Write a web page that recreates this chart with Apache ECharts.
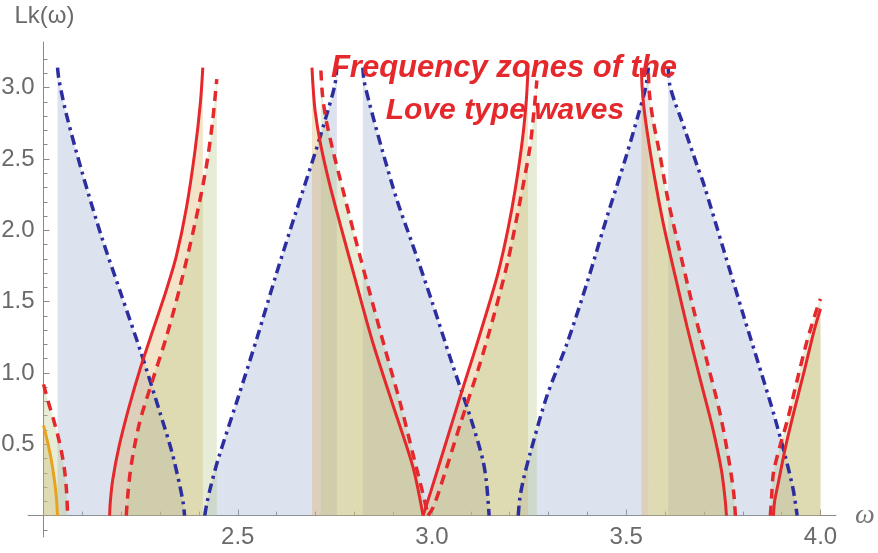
<!DOCTYPE html>
<html>
<head>
<meta charset="utf-8">
<script src="https://cdn.jsdelivr.net/npm/echarts@6/dist/echarts.min.js"></script>
<style>
    html, body {margin: 0; padding: 0; background: #fff;}
    #chart {width: 878px; height: 553px;}
</style>
</head>
<body>
<div id="chart"></div>
<script>
// tick positions
let xMajor = [2.5, 3.0, 3.5, 4.0];
let xMinor = [2.1, 2.2, 2.3, 2.4, 2.6, 2.7, 2.8, 2.9, 3.1, 3.2, 3.3, 3.4, 3.6, 3.7, 3.8, 3.9];
let yMajor = [0.5, 1.0, 1.5, 2.0, 2.5, 3.0];
let yMinor = [-0.1, 0.1, 0.2, 0.3, 0.4, 0.6, 0.7, 0.8, 0.9, 1.1, 1.2, 1.3, 1.4, 1.6, 1.7, 1.8, 1.9,
    2.1, 2.2, 2.3, 2.4, 2.6, 2.7, 2.8, 2.9, 3.1, 3.2];

// blue dot-dashed branches
let blue1 = [[2.036, 3.14], [2.040, 3.05], [2.06, 2.80], [2.10, 2.40], [2.15, 1.95], [2.20, 1.55], [2.25, 1.15],
    [2.30, 0.72], [2.33, 0.45], [2.35, 0.22], [2.36, 0.08], [2.363, 0]];
let blue2 = [[2.415, 0], [2.42, 0.08], [2.43, 0.20], [2.45, 0.40], [2.50, 0.82], [2.55, 1.25], [2.60, 1.70],
    [2.65, 2.13], [2.70, 2.55], [2.73, 2.82], [2.75, 3.02], [2.755, 3.14]];
let blue3 = [[2.822, 3.14], [2.825, 3.05], [2.84, 2.88], [2.87, 2.58], [2.91, 2.21], [2.95, 1.90], [3.00, 1.50],
    [3.05, 1.08], [3.10, 0.68], [3.13, 0.40], [3.14, 0.24], [3.147, 0]];
let blue4 = [[3.222, 0], [3.226, 0.12], [3.235, 0.25], [3.253, 0.44], [3.296, 0.84], [3.348, 1.21], [3.40, 1.64],
    [3.45, 2.09], [3.50, 2.52], [3.531, 2.81], [3.55, 3.0], [3.557, 3.14]];
let blue5 = [[3.608, 3.14], [3.612, 3.02], [3.625, 2.90], [3.64, 2.79], [3.683, 2.45], [3.70, 2.32], [3.75, 1.87],
    [3.80, 1.42], [3.85, 0.98], [3.88, 0.71], [3.91, 0.41], [3.93, 0.18], [3.94, 0]];

// orange solid branch
let orange1 = [[2.0, 0.63], [2.01, 0.52], [2.02, 0.39], [2.028, 0.25], [2.033, 0.13], [2.036, 0]];

// red solid branches
let solid1 = [[2.170, 0], [2.172, 0.10], [2.178, 0.25], [2.194, 0.48], [2.220, 0.76], [2.250, 1.04], [2.284, 1.32],
    [2.316, 1.58], [2.342, 1.82], [2.368, 2.16], [2.390, 2.56], [2.404, 2.90], [2.410, 3.14]];
let solid2a = [[2.691, 3.14], [2.694, 3.0], [2.699, 2.84], [2.712, 2.62], [2.735, 2.34], [2.765, 2.03], [2.80, 1.68],
    [2.848, 1.21], [2.90, 0.77], [2.951, 0.34], [2.977, 0]];
let solid2b = [[2.977, 0], [2.997, 0.17], [3.038, 0.53], [3.072, 0.83], [3.106, 1.12], [3.140, 1.42], [3.170, 1.70],
    [3.195, 2.00], [3.215, 2.30], [3.233, 2.64], [3.243, 2.92], [3.247, 3.12]];
let solid3 = [[3.539, 3.14], [3.541, 3.0], [3.546, 2.85], [3.555, 2.67], [3.571, 2.40], [3.596, 2.04], [3.626, 1.68],
    [3.657, 1.32], [3.69, 0.96], [3.722, 0.62], [3.745, 0.32], [3.754, 0.13], [3.758, 0]];
let solid4 = [[3.879, 0], [3.882, 0.10], [3.893, 0.25], [3.91, 0.48], [3.931, 0.72], [3.957, 1.00], [3.982, 1.28],
    [4.0, 1.45]];

// red dashed branches
let dashed0 = [[2.0, 0.92], [2.012, 0.80], [2.025, 0.68], [2.036, 0.57], [2.046, 0.45], [2.054, 0.32],
    [2.059, 0.18], [2.062, 0]];
let dashed1 = [[2.213, 0], [2.216, 0.12], [2.226, 0.36], [2.248, 0.66], [2.282, 0.96], [2.316, 1.25],
    [2.350, 1.59], [2.390, 2.05], [2.418, 2.43], [2.435, 2.76], [2.446, 3.06]];
let dashed2a = [[2.714, 3.12], [2.718, 2.95], [2.727, 2.78], [2.745, 2.56], [2.77, 2.29], [2.80, 1.97], [2.84, 1.56],
    [2.88, 1.16], [2.92, 0.77], [2.951, 0.43], [2.977, 0.15], [2.99, 0]];
let dashed2b = [[2.99, 0], [3.005, 0.07], [3.038, 0.34], [3.075, 0.66], [3.124, 1.07], [3.160, 1.41], [3.195, 1.78],
    [3.227, 2.21], [3.252, 2.58], [3.263, 2.85], [3.27, 3.05]];
let dashed3 = [[3.557, 3.10], [3.56, 2.95], [3.568, 2.79], [3.588, 2.51], [3.607, 2.22], [3.639, 1.84], [3.672, 1.46],
    [3.709, 1.07], [3.742, 0.71], [3.766, 0.36], [3.777, 0.15], [3.781, 0]];
let dashed4 = [[3.871, 0], [3.874, 0.12], [3.879, 0.30], [3.895, 0.48], [3.915, 0.67], [3.94, 0.95], [3.966, 1.23],
    [3.992, 1.46], [4.0, 1.52]];

let noteLines = ['Frequency zones of the', 'Love type waves'];

let blueArcs = [blue1, blue2, blue3, blue4, blue5];
let solidArcs = [orange1, solid1, solid2a, solid2b, solid3, solid4];
let dashedArcs = [dashed0, dashed1, dashed2a, dashed2b, dashed3, dashed4];

let RED = '#e4282b';
let BLUE = '#2c2ea0';
let ORANGE = '#e9a21f';
let axisGray = '#8a8a8a';
let labelGray = '#6a6a6a';

function fill(data, color) {
    return {
        type: 'line', data: data, showSymbol: false, silent: true, z: 1, smooth: 0.3,
        lineStyle: {width: 0}, areaStyle: {color: color, opacity: 1, origin: 0}
    };
}

function curve(data, color, width, dash) {
    return {
        type: 'line', data: data, showSymbol: false, silent: true, z: 3, smooth: 0.3,
        lineStyle: {color: color, width: width, type: dash, cap: 'butt'}
    };
}

let series = [];
blueArcs.forEach(function (d) {
    series.push(fill(d, 'rgba(155,172,206,0.35)'));
});
solidArcs.forEach(function (d) {
    series.push(fill(d, 'rgba(221,175,98,0.35)'));
});
dashedArcs.forEach(function (d) {
    series.push(fill(d, 'rgba(184,201,138,0.35)'));
});
blueArcs.forEach(function (d) {
    series.push(curve(d, BLUE, 3.5, [10, 5, 3, 5]));
});
dashedArcs.forEach(function (d) {
    series.push(curve(d, RED, 3.5, [10, 7]));
});
solidArcs.forEach(function (d, i) {
    series.push(curve(d, i === 0 ? ORANGE : RED, 3, 'solid'));
});

let chart = echarts.init(document.getElementById('chart'));
chart.setOption({
    animation: false,
    backgroundColor: '#fff',
    grid: {left: 28, right: 42, top: 42, bottom: 16, containLabel: false, outerBoundsMode: 'none'},
    xAxis: [
        {
            type: 'value', min: 1.96, max: 4.04, position: 'bottom',
            axisLine: {onZero: true, lineStyle: {color: axisGray, width: 1}},
            axisTick: {inside: true, length: 6, customValues: xMajor, lineStyle: {color: axisGray}},
            axisLabel: {
                customValues: xMajor, margin: -12, color: labelGray, fontSize: 24, fontFamily: 'Liberation Sans',
                formatter: function (v) { return v.toFixed(1); }
            },
            splitLine: {show: false},
            name: 'ω', nameLocation: 'end', nameGap: 19,
            nameTextStyle: {
                color: '#777', fontSize: 28, fontStyle: 'italic', fontFamily: 'Liberation Serif',
                verticalAlign: 'middle', align: 'left'
            }
        },
        {
            type: 'value', min: 1.96, max: 4.04, position: 'bottom',
            axisLine: {show: false, onZero: true},
            axisTick: {inside: true, length: 4, customValues: xMinor, lineStyle: {color: axisGray}},
            axisLabel: {show: false},
            splitLine: {show: false}
        }
    ],
    yAxis: [
        {
            type: 'value', min: -0.15, max: 3.32, position: 'left', offset: -15.5,
            axisLine: {show: true, onZero: false, lineStyle: {color: axisGray, width: 1}},
            axisTick: {inside: true, length: 6, customValues: yMajor, lineStyle: {color: axisGray}},
            axisLabel: {
                customValues: yMajor, margin: 9, color: labelGray, fontSize: 24, fontFamily: 'Liberation Sans',
                formatter: function (v) { return v.toFixed(1); }
            },
            splitLine: {show: false},
            name: 'Lk(ω)', nameLocation: 'end', nameGap: 14,
            nameTextStyle: {color: labelGray, fontSize: 24, fontFamily: 'Liberation Sans', padding: [0, 0, 0, 2]}
        },
        {
            type: 'value', min: -0.15, max: 3.32, position: 'left', offset: -15.5,
            axisLine: {show: false, onZero: false},
            axisTick: {inside: true, length: 4, customValues: yMinor, lineStyle: {color: axisGray}},
            axisLabel: {show: false},
            splitLine: {show: false}
        }
    ],
    graphic: [
        {
            type: 'text', x: 504, y: 68, z: 10,
            style: {
                text: noteLines[0], fill: RED, font: 'italic bold 31px "Liberation Sans"',
                textAlign: 'center', textVerticalAlign: 'middle'
            }
        },
        {
            type: 'text', x: 505, y: 111, z: 10,
            style: {
                text: noteLines[1], fill: RED, font: 'italic bold 30px "Liberation Sans"',
                textAlign: 'center', textVerticalAlign: 'middle'
            }
        }
    ],
    series: series
});
</script>
</body>
</html>
